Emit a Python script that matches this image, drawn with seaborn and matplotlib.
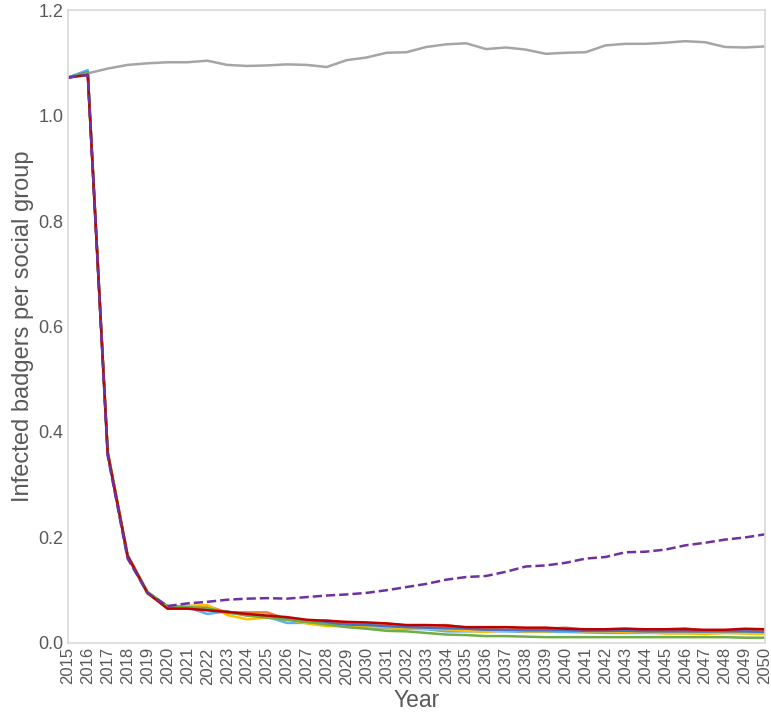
import matplotlib
matplotlib.use("Agg")
import matplotlib.pyplot as plt
import numpy as np
import pandas as pd
import seaborn as sns

years = list(range(2015, 2051))

no_control = [1.072, 1.080, 1.089, 1.096, 1.099, 1.101, 1.101, 1.104, 1.096, 1.094,
              1.095, 1.097, 1.096, 1.092, 1.105, 1.110, 1.119, 1.120, 1.130, 1.135,
              1.137, 1.126, 1.129, 1.125, 1.117, 1.119, 1.120, 1.133, 1.136, 1.136,
              1.138, 1.141, 1.139, 1.130, 1.129, 1.131]

light_blue = [1.072, 1.086, 0.358, 0.163, 0.094, 0.070, 0.068, 0.055, 0.060, 0.052,
              0.050, 0.038, 0.038, 0.035, 0.033, 0.030, 0.028, 0.027, 0.026, 0.022,
              0.022, 0.022, 0.022, 0.021, 0.021, 0.021, 0.020, 0.019, 0.019, 0.019,
              0.019, 0.019, 0.019, 0.019, 0.019, 0.018]
orange = [1.072, 1.080, 0.365, 0.166, 0.096, 0.068, 0.070, 0.070, 0.058, 0.058,
          0.058, 0.045, 0.042, 0.043, 0.038, 0.037, 0.037, 0.033, 0.033, 0.034,
          0.029, 0.027, 0.030, 0.027, 0.027, 0.029, 0.025, 0.026, 0.027, 0.025,
          0.026, 0.028, 0.023, 0.024, 0.024, 0.024]
yellow = [1.072, 1.080, 0.362, 0.164, 0.093, 0.068, 0.070, 0.072, 0.053, 0.045,
          0.048, 0.045, 0.037, 0.032, 0.032, 0.030, 0.030, 0.028, 0.027, 0.026,
          0.023, 0.021, 0.024, 0.022, 0.022, 0.024, 0.022, 0.022, 0.021, 0.020,
          0.018, 0.018, 0.017, 0.019, 0.018, 0.017]
mid_blue = [1.072, 1.082, 0.360, 0.165, 0.095, 0.068, 0.066, 0.063, 0.058, 0.054,
            0.050, 0.045, 0.040, 0.038, 0.035, 0.034, 0.032, 0.030, 0.029, 0.028,
            0.027, 0.025, 0.025, 0.024, 0.024, 0.024, 0.023, 0.023, 0.023, 0.022,
            0.022, 0.022, 0.022, 0.022, 0.022, 0.021]
green = [1.072, 1.081, 0.362, 0.167, 0.097, 0.070, 0.068, 0.066, 0.058, 0.052,
         0.048, 0.044, 0.040, 0.035, 0.030, 0.027, 0.023, 0.022, 0.019, 0.016,
         0.015, 0.013, 0.013, 0.012, 0.011, 0.011, 0.011, 0.011, 0.011, 0.011,
         0.011, 0.011, 0.011, 0.011, 0.010, 0.010]
dark_red = [1.072, 1.077, 0.360, 0.165, 0.095, 0.065, 0.065, 0.062, 0.059, 0.055,
            0.052, 0.049, 0.044, 0.042, 0.040, 0.039, 0.037, 0.034, 0.034, 0.033,
            0.030, 0.030, 0.030, 0.029, 0.029, 0.027, 0.026, 0.026, 0.027, 0.026,
            0.026, 0.026, 0.025, 0.025, 0.027, 0.026]
purple = [1.072, 1.077, 0.355, 0.160, 0.095, 0.070, 0.075, 0.078, 0.082, 0.084,
          0.085, 0.084, 0.087, 0.090, 0.092, 0.095, 0.100, 0.106, 0.112, 0.120,
          0.125, 0.127, 0.135, 0.145, 0.147, 0.152, 0.160, 0.163, 0.172, 0.173,
          0.177, 0.185, 0.190, 0.196, 0.200, 0.206]

series = [
    ("light_blue", light_blue, "#5BB1EC", "-"),
    ("orange", orange, "#ED7D31", "-"),
    ("no_control", no_control, "#A5A5A5", "-"),
    ("yellow", yellow, "#FFC000", "-"),
    ("mid_blue", mid_blue, "#4472C4", "-"),
    ("green", green, "#70AD47", "-"),
    ("dark_red", dark_red, "#C00000", "-"),
    ("purple", purple, "#7030A0", "--"),
]

sns.set_theme(style="white")
plt.rcParams["font.family"] = ["Liberation Sans", "DejaVu Sans"]

fig = plt.figure(figsize=(7.71, 7.18), dpi=100)
ax = fig.add_axes([0.088, 0.1045, 0.904, 0.8815])

for name, vals, color, ls in series:
    df = pd.DataFrame({"Year": years, "value": vals})
    sns.lineplot(data=df, x="Year", y="value", color=color, linestyle=ls,
                 linewidth=1.8, ax=ax)

ax.set_xlim(2015, 2050)
ax.set_ylim(0, 1.2)
ax.set_xticks(years)
ax.set_xticklabels([str(y) for y in years], rotation=90, fontsize=12, color="#595959")
ax.set_yticks(np.arange(0, 1.21, 0.2))
ax.set_yticklabels([f"{v:.1f}" for v in np.arange(0, 1.21, 0.2)], fontsize=13, color="#595959")
ax.tick_params(length=0, pad=3)
ax.set_xlabel("Year", fontsize=16.5, color="#595959", labelpad=3)
ax.set_ylabel("Infected badgers per social group", fontsize=17, color="#595959", labelpad=3)
for s in ax.spines.values():
    s.set_color("#D9D9D9")
    s.set_linewidth(1.2)

fig.savefig("out.png", dpi=100)
